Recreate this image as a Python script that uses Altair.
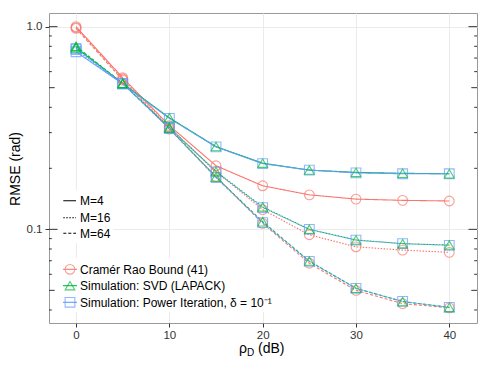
import altair as alt
import pandas as pd

# ---------------- data ----------------
snr_db = [0, 5, 10, 15, 20, 25, 30, 35, 40]

crb_m4 = [1.00, 0.560, 0.325, 0.206, 0.164, 0.148, 0.141, 0.139, 0.138]
crb_m16 = [0.99, 0.552, 0.318, 0.193, 0.125, 0.094, 0.082, 0.079, 0.077]
crb_m64 = [0.98, 0.545, 0.312, 0.182, 0.107, 0.068, 0.050, 0.043, 0.041]

svd_m4 = [0.785, 0.525, 0.355, 0.256, 0.212, 0.196, 0.191, 0.189, 0.188]
svd_m16 = [0.795, 0.525, 0.318, 0.193, 0.129, 0.100, 0.0886, 0.085, 0.0836]
svd_m64 = [0.80, 0.525, 0.315, 0.181, 0.109, 0.0697, 0.0512, 0.044, 0.0412]

pow_m4 = [0.752, 0.522, 0.353, 0.255, 0.211, 0.196, 0.190, 0.188, 0.188]
pow_m16 = [0.77, 0.523, 0.317, 0.192, 0.128, 0.100, 0.0884, 0.085, 0.0834]
pow_m64 = [0.78, 0.524, 0.314, 0.180, 0.108, 0.0695, 0.0511, 0.0441, 0.0412]

methods = ["Cramér Rao Bound (41)", "Simulation: SVD (LAPACK)",
           "Simulation: Power Iteration, δ = 10⁻¹"]
m_labels = ["M=4", "M=16", "M=64"]

y_tick_values = [0.1, 1.0]
x_tick_values = [0, 10, 20, 30, 40]
logtick_long = [0.1, 1.0]
logtick_mid = [0.05, 0.5]
logtick_short = [0.04, 0.06, 0.07, 0.08, 0.09, 0.2, 0.3, 0.4, 0.6, 0.7, 0.8, 0.9]

# ---------------- table ----------------
series = [
    (methods[0], m_labels[0], crb_m4), (methods[0], m_labels[1], crb_m16), (methods[0], m_labels[2], crb_m64),
    (methods[1], m_labels[0], svd_m4), (methods[1], m_labels[1], svd_m16), (methods[1], m_labels[2], svd_m64),
    (methods[2], m_labels[0], pow_m4), (methods[2], m_labels[1], pow_m16), (methods[2], m_labels[2], pow_m64),
]
line_rank = {methods[0]: 0, methods[1]: 1, methods[2]: 2}
pt_rank = {methods[0]: 0, methods[2]: 1, methods[1]: 2}
rows = []
for meth, m, vals in series:
    for i, (xv, yv) in enumerate(zip(snr_db, vals)):
        rows.append({"x": xv, "rmse": yv, "method": meth, "M": m, "series": f"{meth}|{m}",
                     "ol": line_rank[meth] * 100 + i, "op": pt_rank[meth] * 100 + i})
df = pd.DataFrame(rows)

# ---------------- styling ----------------
W, H = 428, 310
FONT = "Liberation Sans"
colors = ["#F8766D", "#00BA38", "#619CFF"]
shapes = ["circle", "triangle-up", "square"]
dashes = [[1, 0], [1.5, 1.5], [3, 2]]

xscale = alt.Scale(domain=[-2.9, 42.97], nice=False, zero=False)
yscale = alt.Scale(type="log", domain=[0.0345, 1.168], nice=False)
cscale = alt.Scale(domain=methods, range=colors)
sscale = alt.Scale(domain=methods, range=shapes)
dscale = alt.Scale(domain=m_labels, range=dashes)

x_axis = alt.Axis(
    values=x_tick_values, title=None, grid=True, gridColor="#ebebeb", gridWidth=1,
    domain=False, tickSize=4, tickColor="#333", labelFontSize=11.5, labelFont=FONT,
    labelColor="#333", labelPadding=2)
y_axis = alt.Axis(
    values=y_tick_values, format=".1f", title=None, grid=True, gridColor="#ebebeb",
    gridWidth=1, domain=False, tickSize=4, tickColor="#333", labelFontSize=11.5,
    labelFont=FONT, labelColor="#333", labelPadding=3)
x_enc = alt.X("x:Q", scale=xscale, axis=x_axis)
y_enc = alt.Y("rmse:Q", scale=yscale, axis=y_axis)

base = alt.Chart(df)
lines = base.mark_line(strokeWidth=1.1).encode(
    x=x_enc, y=y_enc,
    color=alt.Color("method:N", scale=cscale, legend=None),
    strokeDash=alt.StrokeDash("M:N", scale=dscale, legend=None),
    detail="series:N",
    order="ol:Q",
)
points = base.mark_point(filled=False, size=95, strokeWidth=1.1).encode(
    x=x_enc, y=y_enc,
    color=alt.Color("method:N", scale=cscale, legend=None),
    shape=alt.Shape("method:N", scale=sscale, legend=None),
    order="op:Q",
)

layers = [lines, points]

# inside log ticks (left and right)
for vals, L in [(logtick_long, 8.5), (logtick_mid, 5.7), (logtick_short, 2.8)]:
    tdf = pd.DataFrame({"rmse": vals})
    for x0, x1 in [(0, L), (W - L, W)]:
        layers.append(alt.Chart(tdf).mark_rule(color="#333", strokeWidth=1).encode(
            y=y_enc, x=alt.value(x0), x2=alt.value(x1)))

one = pd.DataFrame({"a": [0]})

# legend backgrounds
layers.append(alt.Chart(one).mark_rect(color="white").encode(
    x=alt.value(9), x2=alt.value(64), y=alt.value(177), y2=alt.value(230)))
layers.append(alt.Chart(one).mark_rect(color="white").encode(
    x=alt.value(9), x2=alt.value(232), y=alt.value(245), y2=alt.value(299)))

# line style legend
for lab, dsh, py in zip(m_labels, dashes, [187.7, 204.7, 220.3]):
    layers.append(alt.Chart(one).mark_rule(color="black", strokeWidth=1.1, strokeDash=dsh).encode(
        x=alt.value(14.3), x2=alt.value(27), y=alt.value(py)))
    layers.append(alt.Chart(one).mark_text(text=lab, font=FONT, fontSize=12, align="left",
                                           baseline="middle", color="black").encode(
        x=alt.value(31), y=alt.value(py + 0.5)))

# method legend
for lab, col, shp, py in zip(methods, colors, shapes, [256.3, 272.7, 289.3]):
    layers.append(alt.Chart(one).mark_rule(color=col, strokeWidth=1.1).encode(
        x=alt.value(14), x2=alt.value(28), y=alt.value(py)))
    layers.append(alt.Chart(one).mark_point(shape=shp, filled=False, size=95, strokeWidth=1.1,
                                            color=col).encode(
        x=alt.value(21), y=alt.value(py)))
    layers.append(alt.Chart(one).mark_text(text=lab, font=FONT, fontSize=12, align="left",
                                           baseline="middle", color="black").encode(
        x=alt.value(31), y=alt.value(py + 0.5)))

# axis titles
layers.append(alt.Chart(one).mark_text(text="RMSE (rad)", font=FONT, fontSize=14, angle=270,
                                       align="center", baseline="middle", color="black").encode(
    x=alt.value(-33), y=alt.value(156)))
layers.append(alt.Chart(one).mark_text(text="ρ", font=FONT, fontSize=14, align="left",
                                       baseline="alphabetic", color="black").encode(
    x=alt.value(190), y=alt.value(340)))
layers.append(alt.Chart(one).mark_text(text="D", font=FONT, fontSize=10, align="left",
                                       baseline="alphabetic", color="black").encode(
    x=alt.value(198), y=alt.value(343)))
layers.append(alt.Chart(one).mark_text(text="(dB)", font=FONT, fontSize=14, align="left",
                                       baseline="alphabetic", color="black").encode(
    x=alt.value(209), y=alt.value(340)))

chart = alt.layer(*layers).properties(
    width=W, height=H,
    autosize=alt.AutoSizeParams(type="none"),
    padding={"left": 41, "top": 5, "right": 6, "bottom": 36},
    background="white",
).configure_view(stroke="#999", strokeWidth=1)

chart.save("out.html", embed_options={"renderer": "svg", "actions": False})
